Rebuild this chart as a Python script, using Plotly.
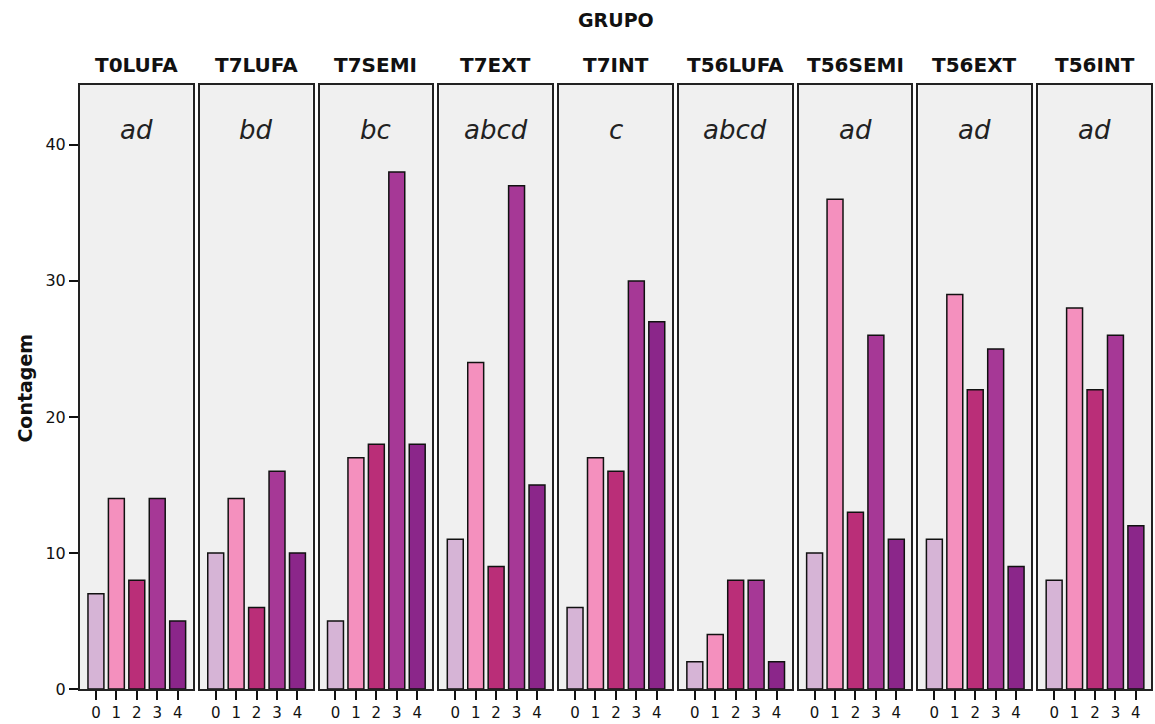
import plotly.graph_objects as go

groups = ["T0LUFA", "T7LUFA", "T7SEMI", "T7EXT", "T7INT", "T56LUFA", "T56SEMI", "T56EXT", "T56INT"]
letters = ["ad", "bd", "bc", "abcd", "c", "abcd", "ad", "ad", "ad"]
categories = [0, 1, 2, 3, 4]
counts = [
    [7, 14, 8, 14, 5],
    [10, 14, 6, 16, 10],
    [5, 17, 18, 38, 18],
    [11, 24, 9, 37, 15],
    [6, 17, 16, 30, 27],
    [2, 4, 8, 8, 2],
    [10, 36, 13, 26, 11],
    [11, 29, 22, 25, 9],
    [8, 28, 22, 26, 12],
]
colors = ["#D6B4D6", "#F490BE", "#BA2E78", "#A63896", "#8B268A"]
yticks = [0, 10, 20, 30, 40]

W, H = 1155, 724
L, R, T, B = 80, 2, 85, 32
plot_w = W - L - R
plot_h = H - T - B
panel_w, gap = 113, 7
ymax = 44.4


def py(page_y):
    return (H - B - page_y) / plot_h


def px(page_x):
    return (page_x - L) / plot_w


fig = go.Figure()
layout = dict(
    width=W, height=H,
    margin=dict(l=L, r=R, t=T, b=B),
    plot_bgcolor="white", paper_bgcolor="white",
    showlegend=False,
    font=dict(family="DejaVu Sans", color="#111"),
)
annotations = []
shapes = []
for i, (g, vals) in enumerate(zip(groups, counts)):
    n = i + 1
    xa = "x" if n == 1 else f"x{n}"
    ya = "y" if n == 1 else f"y{n}"
    fig.add_trace(go.Bar(
        x=categories, y=vals, xaxis=xa, yaxis=ya,
        width=0.78,
        marker=dict(color=colors, line=dict(color="#111", width=1.5)),
    ))
    x0 = (i * (panel_w + gap)) / plot_w
    x1 = (i * (panel_w + gap) + panel_w) / plot_w
    layout["xaxis" if n == 1 else f"xaxis{n}"] = dict(
        domain=[x0, min(x1, 1)], anchor=ya,
        range=[-0.78, 4.74], tickvals=categories, ticktext=[str(c) for c in categories],
        ticks="outside", ticklen=9, tickwidth=1.5, tickcolor="#111",
        showline=True, linecolor="#222", linewidth=2, mirror=True,
        showgrid=False, zeroline=False,
        tickfont=dict(size=15, color="#111"),
        fixedrange=True,
    )
    ydict = dict(
        domain=[0, 1], anchor=xa, range=[0, ymax],
        showline=True, linecolor="#222", linewidth=2, mirror=True,
        showgrid=False, zeroline=False,
        tickvals=yticks,
        fixedrange=True,
    )
    if n == 1:
        ydict.update(ticks="outside", ticklen=9, tickwidth=1.5, tickcolor="#111",
                     showticklabels=True, tickfont=dict(size=16, color="#111"))
    else:
        ydict.update(ticks="", showticklabels=False)
    layout["yaxis" if n == 1 else f"yaxis{n}"] = ydict
    shapes.append(dict(
        type="rect", xref=f"{xa} domain", yref=f"{ya} domain",
        x0=0, x1=1, y0=0, y1=1, fillcolor="#F0F0F0", line=dict(width=0), layer="below",
    ))
    annotations.append(dict(
        text=f"<i>{letters[i]}</i>", xref=f"{xa} domain", yref="paper",
        x=0.5, y=py(130), xanchor="center", yanchor="middle", showarrow=False,
        font=dict(size=26, color="#222"),
    ))
    annotations.append(dict(
        text=f"<b>{g}</b>", xref=f"{xa} domain", yref="paper",
        x=0.5, y=py(65), xanchor="center", yanchor="middle", showarrow=False,
        font=dict(size=20, color="#111"),
    ))

annotations.append(dict(
    text="<b>GRUPO</b>", xref="paper", yref="paper",
    x=px(617), y=py(20), xanchor="center", yanchor="middle", showarrow=False,
    font=dict(size=19, color="#111"),
))
annotations.append(dict(
    text="<b>Contagem</b>", xref="paper", yref="paper", textangle=-90,
    x=px(25), y=py(390), xanchor="center", yanchor="middle", showarrow=False,
    font=dict(size=19, color="#111"),
))
layout["annotations"] = annotations
layout["shapes"] = shapes
fig.update_layout(**layout)
fig.write_html(
    "out.html",
    config={"displayModeBar": False},
    post_script="document.body.style.margin='0';document.body.style.overflow='hidden';",
)
